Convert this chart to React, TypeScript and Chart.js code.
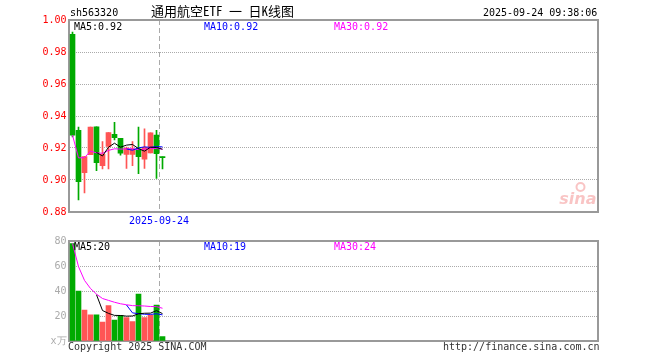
import React, { useEffect, useRef } from 'react';
import { Chart, registerables } from 'chart.js';

Chart.register(...registerables);

// ---------- data ----------
const slotCount = 88;
const dateTickIndex = 15;
const dateTickLabel = '2025-09-24';
const categories = Array.from({ length: slotCount }, (_, i) => (i === dateTickIndex ? dateTickLabel : ''));

const opens = [0.991, 0.931, 0.9046, 0.9158, 0.9333, 0.909, 0.921, 0.9285, 0.926, 0.916, 0.916, 0.9195, 0.913, 0.917, 0.928, 0.9145];
const closes = [0.928, 0.899, 0.9146, 0.933, 0.9108, 0.916, 0.9296, 0.9265, 0.9167, 0.92, 0.9195, 0.9146, 0.9204, 0.9295, 0.9165, 0.914];
const highs = [0.9925, 0.933, 0.9146, 0.933, 0.9333, 0.924, 0.9296, 0.936, 0.926, 0.9205, 0.924, 0.933, 0.932, 0.9295, 0.931, 0.9145];
const lows = [0.927, 0.8875, 0.892, 0.9158, 0.9058, 0.907, 0.907, 0.925, 0.9155, 0.9073, 0.909, 0.904, 0.9073, 0.917, 0.901, 0.907];

const priceMA5 = [null, null, null, null, 0.9172, 0.915, 0.9205, 0.923, 0.9205, 0.9218, 0.9222, 0.9196, 0.918, 0.9205, 0.9203, 0.9192];
const priceMA10 = [null, null, null, null, null, null, null, null, null, 0.9194, 0.9186, 0.9201, 0.9207, 0.9204, 0.9209, 0.9207];
const priceMA30 = [0.928, 0.9138, 0.914, 0.918, 0.917, 0.9167, 0.9185, 0.9195, 0.9193, 0.9195, 0.9195, 0.919, 0.9192, 0.9198, 0.9197, 0.9193];

const volumes = [78, 40, 24.8, 21, 21, 15.2, 28.3, 16.8, 20.5, 18.7, 15.5, 37.6, 18.7, 20.8, 28.8, 3.5];
const volMA5 = [null, null, null, null, 37, 24.4, 22.1, 20.5, 20.4, 19.9, 20, 21.8, 22.2, 22.3, 24.3, 21.9];
const volMA10 = [null, null, null, null, null, null, null, null, null, 28.8, 22.5, 21.9, 21.4, 21.3, 21.8, 20.9];
const volMA30 = [78, 59.5, 48.5, 42, 37.5, 34, 32.5, 31, 29.8, 29, 28.3, 28.2, 28, 27.6, 27.5, 26.2];

const priceAxis = { min: 0.88, max: 1.0, step: 0.02 };
const volAxis = { min: 0, max: 80, step: 20 };

const headerCode = 'sh563320';
const headerTitle = '通用航空ETF 一 日K线图';
const headerTime = '2025-09-24 09:38:06';
const priceLegend = ['MA5:0.92', 'MA10:0.92', 'MA30:0.92'];
const volLegend = ['MA5:20', 'MA10:19', 'MA30:24'];
const volUnitLabel = 'x万';
const footerLeft = 'Copyright 2025 SINA.COM';
const footerRight = 'http://finance.sina.com.cn';

// ---------- styles ----------
const UP = '#ff5555';
const DOWN = '#00aa00';
const MA_COLORS = ['#000000', '#0000ff', '#ff00ff'];
const MONO = '"DejaVu Sans Mono", monospace';
const tickFont = { family: MONO, size: 10 };

const candleColors = opens.map((o, i) => (closes[i] >= o ? UP : DOWN));

const boxPlugin = {
  id: 'box',
  beforeDatasetsDraw(chart: any) {
    const { ctx, chartArea: a } = chart;
    const x0 = Math.floor(a.left);
    const x1 = Math.ceil(a.right);
    const y0 = Math.round(a.top);
    const y1 = Math.round(a.bottom);
    ctx.save();
    ctx.strokeStyle = '#999';
    ctx.lineWidth = 2;
    ctx.strokeRect(x0, y0, x1 - x0, y1 - y0);
    ctx.restore();
  },
};

const sinaPlugin = {
  id: 'sinaMark',
  afterDatasetsDraw(chart: any) {
    const { ctx, chartArea: a } = chart;
    ctx.save();
    ctx.fillStyle = 'rgba(235,60,60,0.3)';
    ctx.strokeStyle = 'rgba(235,60,60,0.3)';
    ctx.font = 'italic bold 16px "DejaVu Sans", sans-serif';
    ctx.textAlign = 'right';
    ctx.textBaseline = 'alphabetic';
    ctx.fillText('sina', a.right - 1, a.bottom - 8);
    ctx.lineWidth = 2;
    ctx.beginPath();
    ctx.arc(a.right - 17, a.bottom - 25, 4, 0, Math.PI * 2);
    ctx.stroke();
    ctx.restore();
  },
};

function lineDs(data: any[], color: string) {
  return {
    type: 'line',
    data,
    borderColor: color,
    backgroundColor: color,
    borderWidth: 1,
    pointRadius: 0,
    fill: false,
    tension: 0,
  };
}

function xScale(showTicks: boolean, height: number) {
  return {
    type: 'category',
    offset: true,
    afterFit: (s: any) => {
      s.height = height;
    },
    grid: {
      offset: true,
      drawTicks: false,
      lineWidth: 1,
      color: (c: any) => (c.index === dateTickIndex ? '#aaa' : 'rgba(0,0,0,0)'),
    },
    border: { display: false, dash: [5, 3] },
    ticks: {
      display: showTicks,
      autoSkip: false,
      maxRotation: 0,
      minRotation: 0,
      color: '#0000ff',
      font: tickFont,
      padding: 3,
      labelOffset: -3.5,
    },
  };
}

function yScale(axis: any, color: string, fmt: (v: number) => string) {
  return {
    min: axis.min,
    max: axis.max,
    stacked: false,
    afterFit: (s: any) => {
      s.width = 69.5;
    },
    grid: { drawTicks: false, color: '#aaa', lineWidth: 1 },
    border: { display: false, dash: [1, 1] },
    ticks: {
      stepSize: axis.step,
      color,
      font: tickFont,
      padding: 3,
      callback: (v: any) => fmt(Number(v)),
    },
  };
}

const textStyle = (left: number, top: number, color: string, extra: any = {}) => ({
  position: 'absolute' as const,
  left,
  top,
  color,
  fontFamily: MONO,
  fontSize: 10,
  lineHeight: '10px',
  whiteSpace: 'pre' as const,
  ...extra,
});

export default function App() {
  const priceRef = useRef<HTMLCanvasElement>(null);
  const volRef = useRef<HTMLCanvasElement>(null);

  useEffect(() => {
    const priceChart = new Chart(priceRef.current as any, {
      type: 'bar',
      data: {
        labels: categories,
        datasets: [
          lineDs(priceMA5, MA_COLORS[0]),
          lineDs(priceMA10, MA_COLORS[1]),
          lineDs(priceMA30, MA_COLORS[2]),
          {
            type: 'bar',
            data: opens.map((o, i) => [o, closes[i]]),
            backgroundColor: candleColors,
            barThickness: 5,
            stack: 'k',
            minBarLength: 1,
            borderWidth: 0,
          },
          {
            type: 'bar',
            data: lows.map((l, i) => [l, highs[i]]),
            backgroundColor: candleColors,
            barThickness: 1,
            stack: 'k',
            borderWidth: 0,
          },
        ] as any,
      },
      options: {
        responsive: false,
        animation: false,
        devicePixelRatio: 1,
        events: [],
        layout: { padding: { left: 0, right: 62.5, top: 20, bottom: 0 } },
        plugins: { legend: { display: false }, tooltip: { enabled: false } },
        scales: {
          x: xScale(true, 20) as any,
          y: yScale(priceAxis, '#ff0000', (v) => v.toFixed(2)) as any,
        },
      },
      plugins: [boxPlugin, sinaPlugin],
    } as any);

    const volChart = new Chart(volRef.current as any, {
      type: 'bar',
      data: {
        labels: categories,
        datasets: [
          lineDs(volMA5, MA_COLORS[0]),
          lineDs(volMA10, MA_COLORS[1]),
          lineDs(volMA30, MA_COLORS[2]),
          {
            type: 'bar',
            data: volumes,
            backgroundColor: candleColors,
            barThickness: 5,
            borderWidth: 0,
          },
        ] as any,
      },
      options: {
        responsive: false,
        animation: false,
        devicePixelRatio: 1,
        events: [],
        layout: { padding: { left: 0, right: 62.5, top: 9, bottom: 0 } },
        plugins: { legend: { display: false }, tooltip: { enabled: false } },
        scales: {
          x: xScale(false, 19) as any,
          y: yScale(volAxis, '#aaa', (v) => (v === 0 ? volUnitLabel : String(v))) as any,
        },
      },
      plugins: [boxPlugin],
    } as any);

    return () => {
      priceChart.destroy();
      volChart.destroy();
    };
  }, []);

  return (
    <div style={{ position: 'fixed', left: 0, top: 0, width: 660, height: 360, background: '#fff', overflow: 'hidden' }}>
      <canvas ref={priceRef} width={660} height={232} style={{ position: 'absolute', left: 0, top: 0 }} />
      <canvas ref={volRef} width={660} height={128} style={{ position: 'absolute', left: 0, top: 232 }} />

      <div style={textStyle(70, 8, '#000')}>{headerCode}</div>
      <div
        style={{
          position: 'absolute',
          left: 151,
          top: 4,
          fontFamily: '"Noto Sans Mono CJK SC", "Noto Sans CJK SC", sans-serif',
          fontSize: 13,
          lineHeight: '14px',
          whiteSpace: 'pre',
          color: '#000',
        }}
      >
        {headerTitle}
      </div>
      <div style={textStyle(483, 8, '#000')}>{headerTime}</div>

      <div style={textStyle(74, 21.5, MA_COLORS[0])}>{priceLegend[0]}</div>
      <div style={textStyle(204, 21.5, MA_COLORS[1])}>{priceLegend[1]}</div>
      <div style={textStyle(334, 21.5, MA_COLORS[2])}>{priceLegend[2]}</div>

      <div style={textStyle(74, 241.5, MA_COLORS[0])}>{volLegend[0]}</div>
      <div style={textStyle(204, 241.5, MA_COLORS[1])}>{volLegend[1]}</div>
      <div style={textStyle(334, 241.5, MA_COLORS[2])}>{volLegend[2]}</div>

      <div style={textStyle(68, 342, '#333')}>{footerLeft}</div>
      <div style={textStyle(443, 342, '#333')}>{footerRight}</div>
    </div>
  );
}
